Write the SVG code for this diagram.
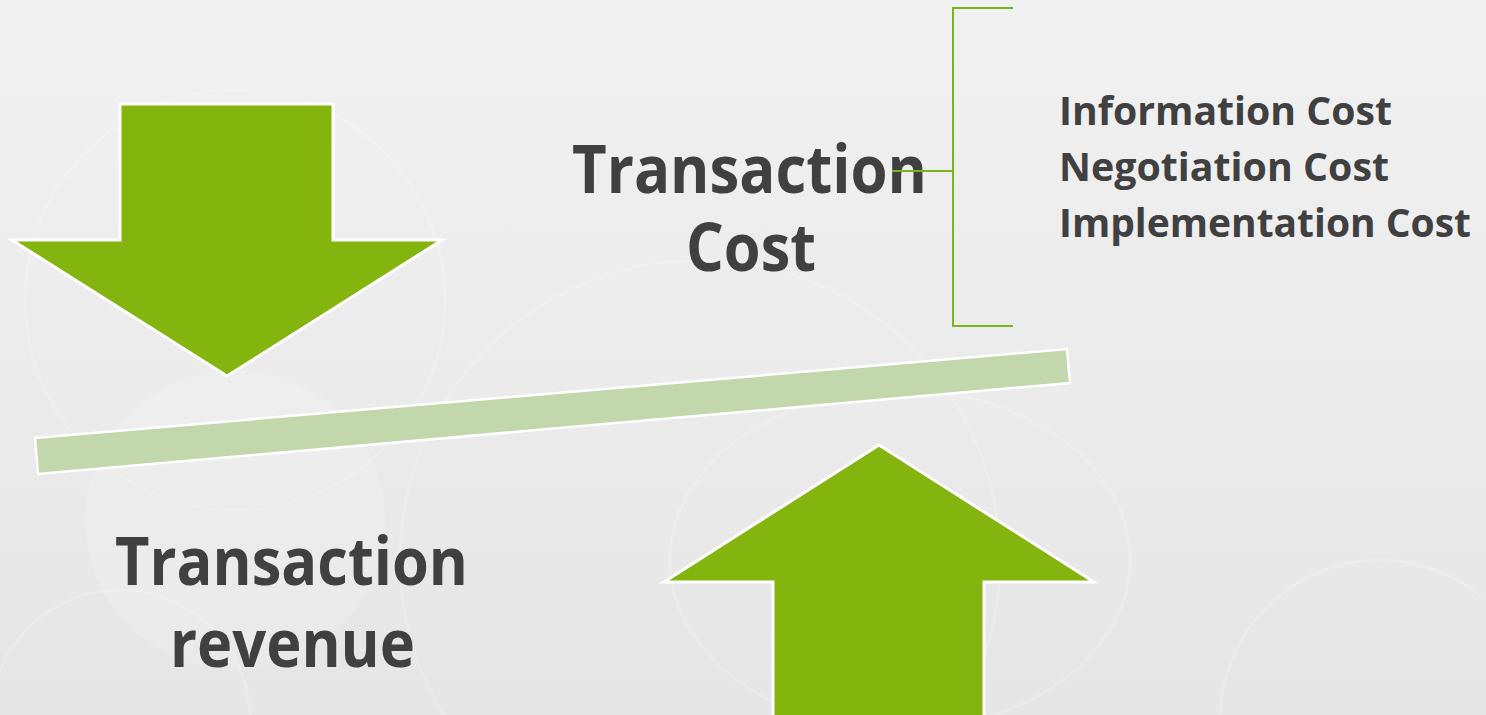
<svg xmlns="http://www.w3.org/2000/svg" width="1486" height="715" viewBox="0 0 1486 715">
  <defs>
    <linearGradient id="bg" x1="0" y1="0" x2="0" y2="1">
      <stop offset="0" stop-color="#f1f1f1"/>
      <stop offset="1" stop-color="#e6e6e6"/>
    </linearGradient>
    <style>
      .arrow { fill: #84b40e; stroke: #ffffff; stroke-width: 3; stroke-linejoin: miter; }
      .bar { fill: #c2d7ab; stroke: #ffffff; stroke-width: 2.5; }
      .big { font-family: "Open Sans", "Liberation Sans", sans-serif; font-weight: bold; font-size: 66px; fill: #404040; text-anchor: middle; }
      .small { font-family: "Open Sans", "Liberation Sans", sans-serif; font-weight: bold; font-size: 40px; fill: #404040; }
      .brace { fill: none; stroke: #7ab51d; stroke-width: 2; }
      .deco { fill: none; stroke: #ffffff; stroke-opacity: 0.18; stroke-width: 3; }
    </style>
  </defs>
  <rect width="1486" height="715" fill="url(#bg)"/>
  <g id="background-decor">
    <circle cx="235" cy="300" r="210" class="deco"/>
    <circle cx="235" cy="520" r="150" fill="#ffffff" fill-opacity="0.15"/>
    <circle cx="700" cy="560" r="300" class="deco"/>
    <ellipse cx="900" cy="560" rx="230" ry="170" class="deco"/>
    <circle cx="1380" cy="720" r="160" class="deco"/>
    <circle cx="120" cy="720" r="130" class="deco"/>
  </g>
  <g id="down-arrow">
    <polygon class="arrow" points="120,104 333,104 333,240 442,240 227,376 12,240 120,240"/>
  </g>
  <g id="up-arrow">
    <polygon class="arrow" points="879,445 1094,582 984,582 984,720 773,720 773,582 664,582"/>
  </g>
  <g id="lever">
    <polygon class="bar" points="35,438 1067,349 1070,383 38,474"/>
  </g>
  <g id="transaction-cost">
    <text class="big" x="749.5" y="193" textLength="355" lengthAdjust="spacingAndGlyphs">Transaction</text>
    <text class="big" x="751" y="271" textLength="130" lengthAdjust="spacingAndGlyphs">Cost</text>
  </g>
  <g id="transaction-revenue">
    <text class="big" x="291.5" y="585" textLength="353" lengthAdjust="spacingAndGlyphs">Transaction</text>
    <text class="big" x="292.5" y="667" textLength="245" lengthAdjust="spacingAndGlyphs">revenue</text>
  </g>
  <g id="connectors">
    <path class="brace" d="M1013,8 H953 V326 H1013"/>
    <path class="brace" d="M892,171 H953"/>
  </g>
  <g id="cost-list">
    <text class="small" x="1059" y="125" textLength="333" lengthAdjust="spacingAndGlyphs">Information Cost</text>
    <text class="small" x="1059" y="181" textLength="330" lengthAdjust="spacingAndGlyphs">Negotiation Cost</text>
    <text class="small" x="1059" y="237" textLength="412" lengthAdjust="spacingAndGlyphs">Implementation Cost</text>
  </g>
</svg>
